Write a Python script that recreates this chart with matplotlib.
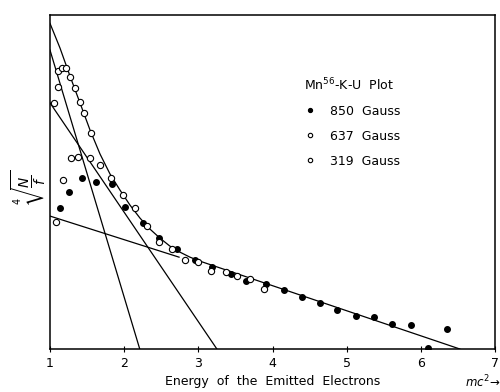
import matplotlib.pyplot as plt

# Data (x: energy in mc^2, y: arbitrary K-U units)
x_850 = [1.135, 1.256, 1.431, 1.620, 1.836, 2.011, 2.253, 2.469, 2.712, 2.954,
         3.183, 3.439, 3.642, 3.911, 4.154, 4.396, 4.639, 4.868, 5.124, 5.367,
         5.609, 5.865, 6.094, 6.350]
y_850 = [4.22, 4.70, 5.12, 5.00, 4.94, 4.25, 3.77, 3.32, 2.99, 2.66,
         2.46, 2.25, 2.04, 1.95, 1.77, 1.56, 1.38, 1.17, 0.99, 0.96,
         0.75, 0.72, 0.03, 0.60]

x_637 = [1.081, 1.175, 1.283, 1.377, 1.539, 1.674, 1.822, 1.984, 2.146, 2.307,
         2.469, 2.644, 2.819, 2.995, 3.170, 3.372, 3.520, 3.695, 3.884]
y_637 = [3.80, 5.06, 5.72, 5.75, 5.72, 5.51, 5.12, 4.61, 4.22, 3.68,
         3.20, 2.99, 2.66, 2.60, 2.34, 2.31, 2.19, 2.10, 1.80]

x_319 = [1.054, 1.108, 1.162, 1.216, 1.108, 1.270, 1.337, 1.404, 1.458, 1.553]
y_319 = [7.37, 8.32, 8.41, 8.41, 7.84, 8.14, 7.81, 7.40, 7.07, 6.47]

# hand-drawn fit curve through the points
fit_x = [1.000, 1.135, 1.270, 1.404, 1.539, 1.674, 1.809, 1.943, 2.078, 2.213,
         2.348, 2.482, 2.617, 2.752, 2.887, 3.022, 6.526]
fit_y = [9.75, 9.01, 8.17, 7.37, 6.56, 5.84, 5.24, 4.76, 4.31, 3.92,
         3.59, 3.32, 3.08, 2.90, 2.75, 2.63, 0.00]

# straight component lines
line1_x, line1_y = [1.0, 2.21], [8.95, 0.0]
line2_x, line2_y = [1.0, 3.25], [7.37, 0.0]
line3_x, line3_y = [1.0, 2.74], [3.98, 2.75]

xticks = [1, 2, 3, 4, 5, 6, 7]

fig = plt.figure(figsize=(5, 3.92), dpi=100)
ax = fig.add_axes([0.10, 0.1097, 0.89, 0.852])

for lx, ly in [(fit_x, fit_y), (line1_x, line1_y), (line2_x, line2_y), (line3_x, line3_y)]:
    ax.plot(lx, ly, color='black', lw=0.9)

ax.plot(x_850, y_850, 'o', color='black', ms=4, ls='none', label='850  Gauss')
ax.plot(x_637, y_637, 'o', mfc='white', mec='black', mew=0.8, ms=4.5, ls='none',
        label='637  Gauss')
ax.plot(x_319, y_319, 'o', mfc='white', mec='black', mew=0.8, ms=4.5, ls='none',
        label='319  Gauss')

ax.set_xlim(1, 7)
ax.set_ylim(0, 10)
ax.set_xticks(xticks)
ax.set_yticks([])
ax.tick_params(axis='x', direction='inout', length=5, labelsize=9, pad=3)
for s in ax.spines.values():
    s.set_linewidth(1.1)

leg = ax.legend(loc='upper left', bbox_to_anchor=(0.545, 0.85), frameon=False,
                title=r'Mn$^{56}$-K-U  Plot', title_fontsize=9, fontsize=9,
                handlelength=1.0, handletextpad=1.1, labelspacing=0.95,
                markerscale=0.7, alignment='left')

ax.set_xlabel('Energy  of  the  Emitted  Electrons', fontsize=9, labelpad=4)
fig.text(0.058, 0.52, r'$\sqrt[4]{\frac{N}{f}}$', rotation=90, fontsize=14,
         ha='center', va='center')
fig.text(0.93, 0.025, r'$mc^2$' + '\u2192', fontsize=8.5, va='center')

fig.savefig('out.png', dpi=100)
